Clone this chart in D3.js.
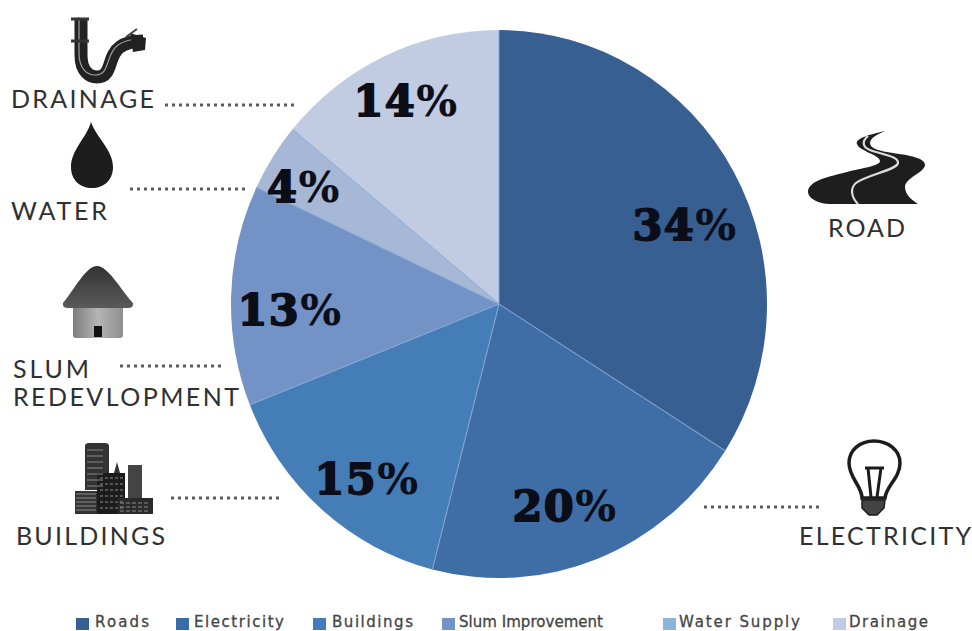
<!DOCTYPE html>
<html>
<head>
<meta charset="utf-8">
<script src="https://cdn.jsdelivr.net/npm/d3@7"></script>
<style>
  html, body { margin: 0; padding: 0; background: #fff; overflow: hidden; }
  svg { display: block; }
</style>
</head>
<body>
<svg id="chart" width="972" height="631"></svg>
<script>
// Infrastructure spending shares
const categories = ["Roads", "Electricity", "Buildings", "Slum Improvement", "Water Supply", "Drainage"];
const shares = [34, 20, 15, 13, 4, 14];
const sliceColors = ["#375f92", "#3f6ea6", "#457db7", "#7393c6", "#a7b8d6", "#c1cbe2"];
const legendColors = ["#375f92", "#3b6ca8", "#457db7", "#7393c6", "#8db4d8", "#c1cbe2"];

// Layout
const centre = { x: 499, y: 304 };
const radii = { x: 268, y: 274 };
const valueLabelAt = [[685, 240], [565, 521], [367, 494], [290, 325], [304, 202], [406, 116]];
const legendSwatchX = [76, 176, 313, 442, 663, 833];
const legendTextX = [95, 194, 332, 459, 679, 849];
const legendTextWidth = [54, 90, 81, 144, 121, 79];
const calloutLabels = [
  { text: "DRAINAGE", x: 11, y: 108, w: 143 },
  { text: "WATER", x: 11, y: 220, w: 96 },
  { text: "SLUM", x: 13, y: 378, w: 76 },
  { text: "REDEVLOPMENT", x: 13, y: 406, w: 226 },
  { text: "BUILDINGS", x: 16, y: 545, w: 149 },
  { text: "ROAD", x: 828, y: 237, w: 77 },
  { text: "ELECTRICITY", x: 799, y: 545, w: 172 }
];
const leaders = [[165, 298, 105], [130, 248, 189], [120, 222, 366], [171, 281, 498], [704, 822, 507]];

const svg = d3.select("#chart");
const defs = svg.append("defs");

// Pie, slightly taller than wide
const pie = d3.pie().sort(null).value(d => d)(shares);
const arc = d3.arc().innerRadius(0).outerRadius(radii.y);
const pieGroup = svg.append("g")
  .attr("transform", `translate(${centre.x},${centre.y}) scale(${radii.x / radii.y},1)`);
pieGroup.selectAll("path")
  .data(pie)
  .join("path")
  .attr("d", arc)
  .attr("fill", (d, i) => sliceColors[i]);

// Pale seams along the slice boundaries
const seam = d3.lineRadial();
pieGroup.selectAll("path.seam")
  .data(pie)
  .join("path")
  .attr("class", "seam")
  .attr("d", d => seam([[0, 0], [d.startAngle, radii.y]]))
  .attr("fill", "none")
  .attr("stroke", "#86a8d8")
  .attr("stroke-opacity", 0.75)
  .attr("stroke-width", 1.2);

// Percentage labels: heavy digits with a lighter percent sign
const valueLabels = svg.append("g").selectAll("text")
  .data(shares)
  .join("text")
  .attr("x", (d, i) => valueLabelAt[i][0])
  .attr("y", (d, i) => valueLabelAt[i][1])
  .attr("text-anchor", "middle")
  .attr("font-family", "'DejaVu Serif', serif")
  .attr("font-weight", 700)
  .attr("font-size", 43)
  .attr("letter-spacing", 1.5)
  .attr("fill", "#0b0e18");
valueLabels.append("tspan")
  .attr("stroke", "#0b0e18")
  .attr("stroke-width", 1.8)
  .text(d => d);
valueLabels.append("tspan")
  .attr("stroke", "#0b0e18")
  .attr("stroke-width", 0.2)
  .text("%");

// Callout names
svg.append("g").selectAll("text")
  .data(calloutLabels)
  .join("text")
  .attr("x", d => d.x)
  .attr("y", d => d.y)
  .attr("textLength", d => d.w)
  .attr("lengthAdjust", "spacing")
  .attr("font-family", "Lato, sans-serif")
  .attr("font-size", 25)
  .attr("fill", "#303030")
  .text(d => d.text);

// Dotted leaders
svg.append("g").selectAll("line")
  .data(leaders)
  .join("line")
  .attr("x1", d => d[0])
  .attr("x2", d => d[1])
  .attr("y1", d => d[2])
  .attr("y2", d => d[2])
  .attr("stroke", "#5c5c5c")
  .attr("stroke-width", 3)
  .attr("stroke-dasharray", "3 4");

// Legend
const legend = svg.append("g");
legend.selectAll("rect")
  .data(categories)
  .join("rect")
  .attr("x", (d, i) => legendSwatchX[i])
  .attr("y", 618)
  .attr("width", 13)
  .attr("height", 12)
  .attr("fill", (d, i) => legendColors[i]);
legend.selectAll("text")
  .data(categories)
  .join("text")
  .attr("x", (d, i) => legendTextX[i])
  .attr("y", 627)
  .attr("textLength", (d, i) => legendTextWidth[i])
  .attr("lengthAdjust", "spacing")
  .attr("font-family", "'DejaVu Sans', sans-serif")
  .attr("font-size", 15)
  .attr("fill", "#444")
  .attr("stroke", "#444")
  .attr("stroke-width", 0.3)
  .text(d => d);

// Icons
const icons = svg.append("g");

// Drain pipe
const pipe = icons.append("g").attr("fill", "none");
const pipePath = "M81 19V55C81 72 90 77 97 77C113 77 107 56 120 47C127 42 135 41 143 41";
pipe.append("path").attr("d", pipePath).attr("stroke", "#222").attr("stroke-width", 13);
pipe.append("path").attr("d", pipePath).attr("transform", "translate(-2,-2)").attr("stroke", "#a0a0a0").attr("stroke-width", 1.2);
pipe.append("path").attr("d", "M71 19H89M71 41H89").attr("stroke", "#333").attr("stroke-width", 3);
pipe.append("path").attr("d", "M130 33L146 38L145 50L133 52Z").attr("fill", "#222");
pipe.append("path").attr("d", "M126 37L137 29").attr("stroke", "#444").attr("stroke-width", 2);

// Water drop
icons.append("path")
  .attr("d", "M91 122C87 137 71 150 71 167C71 180 80 188 92 188C104 188 113 180 113 167C113 150 96 137 91 122Z")
  .attr("fill", "#1d1d1d");

// Hut
const roofGrad = defs.append("linearGradient").attr("id", "roofShade").attr("x1", 0).attr("x2", 0).attr("y1", 0).attr("y2", 1);
roofGrad.append("stop").attr("offset", 0).attr("stop-color", "#333");
roofGrad.append("stop").attr("offset", 1).attr("stop-color", "#5a5a5a");
const wallGrad = defs.append("linearGradient").attr("id", "wallShade").attr("x1", 0).attr("x2", 1).attr("y1", 0).attr("y2", 0);
wallGrad.append("stop").attr("offset", 0).attr("stop-color", "#7d7d7d");
wallGrad.append("stop").attr("offset", 0.5).attr("stop-color", "#b5b5b5");
wallGrad.append("stop").attr("offset", 1).attr("stop-color", "#8f8f8f");
icons.append("path").attr("d", "M73 306H123V335Q123 338 120 338H76Q73 338 73 335Z").attr("fill", "url(#wallShade)");
icons.append("path").attr("d", "M63 303C74 290 86 266 97 266C108 266 121 290 133 303Q134 308 128 308H68Q62 308 63 303Z").attr("fill", "url(#roofShade)");
icons.append("rect").attr("x", 94).attr("y", 326).attr("width", 8).attr("height", 11).attr("fill", "#111");

// Skyline
const sky = icons.append("g").attr("fill", "#333");
sky.append("path").attr("d", "M85 446Q85 443 89 443H105Q109 443 109 446V490H85Z");
sky.append("rect").attr("x", 75).attr("y", 491).attr("width", 22).attr("height", 23);
sky.append("rect").attr("x", 97).attr("y", 473).attr("width", 28).attr("height", 41).attr("fill", "#1c1c1c");
sky.append("path").attr("d", "M114 473L117 462L120 473Z");
sky.append("rect").attr("x", 128).attr("y", 465).attr("width", 14).attr("height", 38).attr("fill", "#444");
sky.append("rect").attr("x", 118).attr("y", 498).attr("width", 35).attr("height", 16).attr("fill", "#2a2a2a");
const skyStripes = icons.append("g").attr("stroke", "#8c8c8c").attr("stroke-width", 1);
d3.range(450, 490, 6).forEach(y => skyStripes.append("line").attr("x1", 87).attr("x2", 103).attr("y1", y).attr("y2", y));
d3.range(494, 514, 4).forEach(y => skyStripes.append("line").attr("x1", 76).attr("x2", 96).attr("y1", y).attr("y2", y));
d3.range(478, 512, 6).forEach(y => skyStripes.append("line").attr("x1", 100).attr("x2", 124).attr("y1", y).attr("y2", y).attr("stroke-dasharray", "3 2"));
d3.range(503, 513, 4).forEach(y => skyStripes.append("line").attr("x1", 120).attr("x2", 150).attr("y1", y).attr("y2", y).attr("stroke-dasharray", "4 2"));

// Road
icons.append("path")
  .attr("d", "M885 131C872 134 855 138 857 144C859 151 880 155 880 161C880 166 862 168 847 172C832 176 808 180 808 192C808 198 818 204 830 204H918C912 200 905 195 905 187C905 178 925 172 925 165C925 157 905 155 893 153C880 151 870 149 870 143C870 138 878 134 885 131Z")
  .attr("fill", "#1e1e1e");
icons.append("path")
  .attr("d", "M868 136C862 141 862 147 870 150C880 154 899 156 898 163C897 170 866 175 856 183C850 188 851 197 858 204")
  .attr("fill", "none")
  .attr("stroke", "#ddd")
  .attr("stroke-width", 2.2);

// Light bulb
const bulb = icons.append("g").attr("fill", "none").attr("stroke", "#1c1c1c");
bulb.append("path").attr("d", "M862 498C862 486 849 478 849 463C849 450 860 441 874 441C888 441 900 450 900 463C900 478 886 486 885 498Z").attr("stroke-width", 3.5);
bulb.append("path").attr("d", "M865 468H884M868 468L871 497M881 468L877 497").attr("stroke-width", 3);
bulb.append("path").attr("d", "M862 500H885L884 508L877 515H869L862 508Z").attr("fill", "#444").attr("stroke-width", 1.5);
</script>
</body>
</html>
